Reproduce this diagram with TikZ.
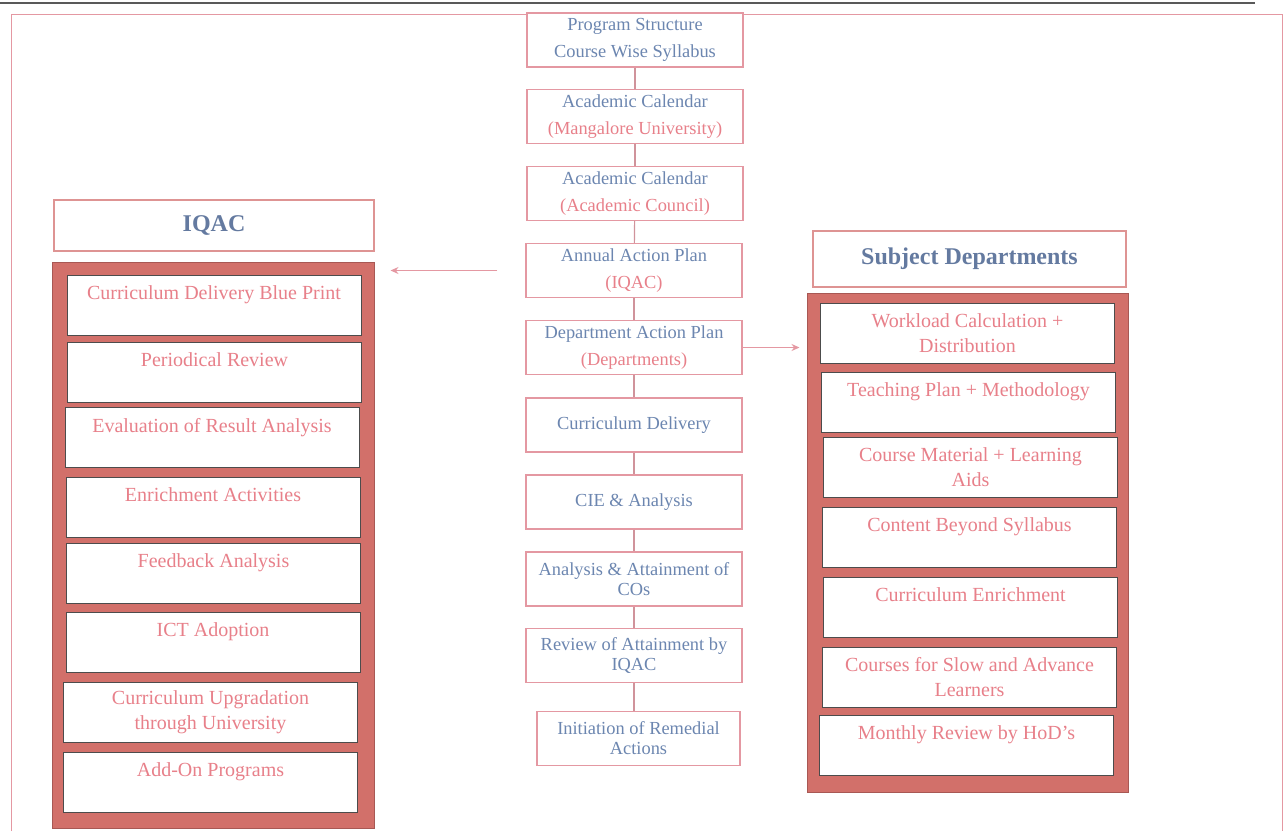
\documentclass[tikz,border=0pt]{standalone}
\usepackage{fontspec}
\setmainfont{Liberation Serif}
\usetikzlibrary{arrows.meta}

\definecolor{txtblue}{RGB}{108,134,176}
\definecolor{txtpink}{RGB}{232,128,138}
\definecolor{boxpink}{RGB}{228,152,162}
\definecolor{framered}{RGB}{210,112,106}
\definecolor{framedark}{RGB}{168,88,84}
\definecolor{headblue}{RGB}{100,122,160}

\begin{document}
\begin{tikzpicture}[x=0.5pt, y=-0.5pt,
        cbox/.style={draw=boxpink, line width=0.7pt, fill=white, minimum width=108pt, minimum height=27pt,
            align=center, inner sep=1pt, text=txtblue, font=\fontsize{9.2}{13.5}\selectfont},
        tight/.style={font=\fontsize{9.2}{10}\selectfont},
        hbox/.style={draw=boxpink!85!brown, line width=0.6pt, fill=white, text=headblue,
            font=\fontsize{12}{14}\selectfont\bfseries},
        frame/.style={draw=framedark, line width=0.5pt, fill=framered},
        lbox/.style={draw=gray!60!black, line width=0.5pt, fill=white, minimum width=147pt, minimum height=30pt,
            align=center, inner sep=1pt, text=txtpink, font=\fontsize{10}{12.5}\selectfont},
        link/.style={draw=boxpink!80!gray, line width=0.6pt},
        arr/.style={draw=boxpink, line width=0.6pt, -{Stealth[length=4pt,width=3.5pt]}}]
        \useasboundingbox (0,0) rectangle (1284,831);

        % page rule and outer border
        \draw[gray!70!black, line width=1pt] (0,3) -- (1255,3);
        \draw[boxpink, line width=0.5pt] (11,831) -- (11,14) -- (1282,14) -- (1282,831);

        % middle column
        \node[cbox] (prog) at (635,40) {Program Structure\\Course Wise Syllabus};
        \node[cbox] (calmu) at (635,116.5) {Academic Calendar\\\textcolor{txtpink}{(Mangalore University)}};
        \node[cbox] (calac) at (635,193.5) {Academic Calendar\\\textcolor{txtpink}{(Academic Council)}};
        \node[cbox] (aap) at (634,270.5) {Annual Action Plan\\\textcolor{txtpink}{(IQAC)}};
        \node[cbox] (dap) at (634,347.5) {Department Action Plan\\\textcolor{txtpink}{(Departments)}};
        \node[cbox] (cdel) at (634,425) {Curriculum Delivery};
        \node[cbox] (cie) at (634,502) {CIE \& Analysis};
        \node[cbox, tight] (aco) at (634,579) {Analysis \& Attainment of\\COs};
        \node[cbox, tight] (rev) at (634,655.5) {Review of Attainment by\\IQAC};
        \node[cbox, tight, minimum width=101.5pt] (rem) at (638.5,738.5) {Initiation of Remedial\\Actions};

        \draw[link] (prog) -- (calmu);
        \draw[link] (calmu) -- (calac);
        \draw[link] (calac) -- (aap);
        \draw[link] (aap) -- (dap);
        \draw[link] (dap) -- (cdel);
        \draw[link] (cdel) -- (cie);
        \draw[link] (cie) -- (aco);
        \draw[link] (aco) -- (rev);
        \draw[link] (rev.south) -- (rev.south |- rem.north);

        % IQAC side
        \node[hbox, minimum width=160pt, minimum height=25.5pt] (iqac) at (214,225.5) {IQAC};
        \node[frame, minimum width=161pt, minimum height=283pt] (lframe) at (213,545) {};
        \node[lbox] (blue) at (214,305) {Curriculum Delivery Blue Print\\\mbox{}};
        \node[lbox] (peri) at (214.5,372) {Periodical Review\\\mbox{}};
        \node[lbox] (eval) at (212,437.5) {Evaluation of Result Analysis\\\mbox{}};
        \node[lbox] (enri) at (213,507) {Enrichment Activities\\\mbox{}};
        \node[lbox] (feed) at (213.5,573) {Feedback Analysis\\\mbox{}};
        \node[lbox] (ict) at (213,642) {ICT Adoption\\\mbox{}};
        \node[lbox] (upgr) at (210.5,712) {Curriculum Upgradation\\through University};
        \node[lbox] (addon) at (210.5,782) {Add-On Programs\\\mbox{}};

        % Subject departments side
        \node[hbox, minimum width=156.5pt, minimum height=28pt] (subj) at (969.5,259) {Subject Departments};
        \node[frame, minimum width=160.5pt, minimum height=249.5pt] (rframe) at (967.5,542.5) {};
        \node[lbox] (work) at (967.5,333.5) {Workload Calculation +\\Distribution};
        \node[lbox] (teach) at (968.5,402) {Teaching Plan + Methodology\\\mbox{}};
        \node[lbox] (mat) at (970.5,467.5) {Course Material + Learning\\Aids};
        \node[lbox] (beyond) at (969.5,537.5) {Content Beyond Syllabus\\\mbox{}};
        \node[lbox] (cenr) at (970.5,607) {Curriculum Enrichment\\\mbox{}};
        \node[lbox] (slow) at (969.5,677) {Courses for Slow and Advance\\Learners};
        \node[lbox] (hod) at (966.5,745.5) {Monthly Review by HoD's\\\mbox{}};

        % arrows out of the middle column
        \draw[arr, shorten <=14pt, shorten >=8pt] (aap.west) -- (aap.west -| lframe.east);
        \draw[arr, shorten >=3.5pt] (dap.east) -- (dap.east -| rframe.west);
    \end{tikzpicture}
\end{document}
